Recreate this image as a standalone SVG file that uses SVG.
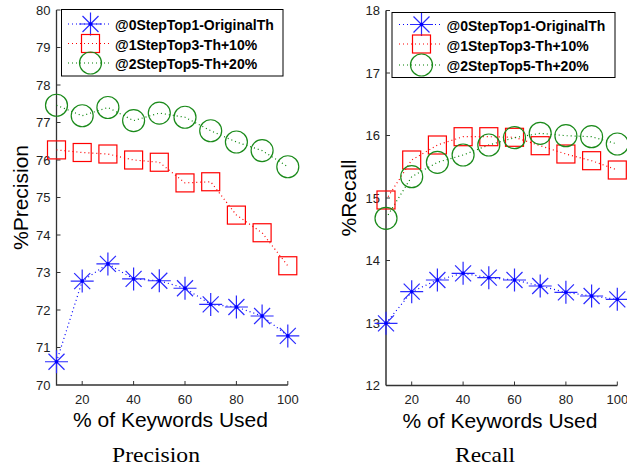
<svg xmlns="http://www.w3.org/2000/svg" xmlns:xlink="http://www.w3.org/1999/xlink" width="627" height="470" viewBox="0 0 627 470">
<style>
.ax{stroke:#333;stroke-width:1.3;fill:none}
.axr{stroke:#666;stroke-width:2;fill:none}
.tk{stroke:#333;stroke-width:1;fill:none}
.tl{font-family:"Liberation Sans",Arial,sans-serif;font-size:13px;fill:#222}
.lab{font-family:"Liberation Sans",Arial,sans-serif;font-size:21px;fill:#000}
.cap{font-family:"Liberation Serif","Times New Roman",serif;font-size:21px;fill:#000}
.lg{font-family:"Liberation Sans",Arial,sans-serif;font-size:14px;font-weight:bold;fill:#000}
.lbox{fill:#fff;stroke:#000;stroke-width:1}
.bl{stroke:#0000ff;stroke-width:1.2;stroke-dasharray:1 3;fill:none}
.rl{stroke:#ff0000;stroke-width:1.2;stroke-dasharray:1 3;fill:none}
.gl{stroke:#008000;stroke-width:1.2;stroke-dasharray:1 3;fill:none}
.bm{stroke:#2a2aff;stroke-width:1.2;fill:#0000ff}
.rm{stroke:#ff0000;stroke-width:1.2;fill:none}
.gm{stroke:#1a8a1a;stroke-width:1.2;fill:none}
</style>
<defs>
<g id="star"><path d="M-11.5,0H11.5M0,-11.5V11.5M-8,-8L8,8M-8,8L8,-8"/><circle r="1.8" stroke="none"/></g>
<rect id="sq" x="-9" y="-9" width="18" height="18"/>
<circle id="ci" r="11"/>
</defs>

<!-- LEFT PLOT: Precision -->
<g id="precision-axes">
<path class="ax" d="M56.5,10V385H287.8"/>
<path class="tk" d="M56.5,10h4M56.5,47.5h4M56.5,85h4M56.5,122.5h4M56.5,160h4M56.5,197.5h4M56.5,235h4M56.5,272.5h4M56.5,310h4M56.5,347.5h4M82.2,385v-4M133.6,385v-4M185,385v-4M236.4,385v-4M287.8,385v-4"/>
<g class="tl" text-anchor="end">
<text x="50.5" y="14.7">80</text><text x="50.5" y="52.2">79</text><text x="50.5" y="89.7">78</text><text x="50.5" y="127.2">77</text><text x="50.5" y="164.7">76</text><text x="50.5" y="202.2">75</text><text x="50.5" y="239.7">74</text><text x="50.5" y="277.2">73</text><text x="50.5" y="314.7">72</text><text x="50.5" y="352.2">71</text><text x="50.5" y="389.7">70</text>
</g>
<g class="tl" text-anchor="middle">
<text x="82.2" y="403.5">20</text><text x="133.6" y="403.5">40</text><text x="185" y="403.5">60</text><text x="236.4" y="403.5">80</text><text x="287.8" y="403.5">100</text>
</g>
<text class="lab" x="170.5" y="426.5" text-anchor="middle">% of Keywords Used</text>
<text class="lab" transform="translate(27.5,197.5) rotate(-90)" text-anchor="middle">%Precision</text>
<text class="cap" x="156" y="461.5" text-anchor="middle" textLength="88" lengthAdjust="spacingAndGlyphs">Precision</text>
</g>

<g id="connectors">
<polyline class="bl" points="56.5,361.75 82.2,281.1 107.9,263.9 133.6,278.9 159.3,280.75 185,288.25 210.7,304.4 236.4,307 262.1,316 287.8,335.9"/>
<polyline class="rl" points="56.5,149.9 82.2,152.5 107.9,154 133.6,160 159.3,162.25 185,182.9 210.7,181.75 236.4,215.1 262.1,232.75 287.8,265.75"/>
<polyline class="gl" points="56.5,105.25 82.2,115.75 107.9,107.5 133.6,120.6 159.3,113.1 185,117.25 210.7,130.75 236.4,142 262.1,150.6 287.8,166.75"/>
<polyline class="bl" points="386,323.3 411.7,291.7 437.4,280 463.1,273.3 488.8,277.7 514.5,280 540.2,286 565.9,292.3 591.6,296 617.3,299.3"/>
<polyline class="rl" points="386,200 411.7,160 437.4,145 463.1,136.7 488.8,136.7 514.5,137.3 540.2,145.7 565.9,154 591.6,160.7 617.3,170"/>
<polyline class="gl" points="386,218.3 411.7,176.7 437.4,162.3 463.1,155 488.8,145 514.5,137.7 540.2,133.3 565.9,135.7 591.6,136.7 617.3,144"/>
</g>

<g id="precision-0step" class="bm">
<use href="#star" x="56.5" y="361.75"/><use href="#star" x="82.2" y="281.1"/><use href="#star" x="107.9" y="263.9"/><use href="#star" x="133.6" y="278.9"/><use href="#star" x="159.3" y="280.75"/><use href="#star" x="185" y="288.25"/><use href="#star" x="210.7" y="304.4"/><use href="#star" x="236.4" y="307"/><use href="#star" x="262.1" y="316"/><use href="#star" x="287.8" y="335.9"/>
</g>
<g id="precision-1step" class="rm">
<use href="#sq" x="56.5" y="149.9"/><use href="#sq" x="82.2" y="152.5"/><use href="#sq" x="107.9" y="154"/><use href="#sq" x="133.6" y="160"/><use href="#sq" x="159.3" y="162.25"/><use href="#sq" x="185" y="182.9"/><use href="#sq" x="210.7" y="181.75"/><use href="#sq" x="236.4" y="215.1"/><use href="#sq" x="262.1" y="232.75"/><use href="#sq" x="287.8" y="265.75"/>
</g>
<g id="precision-2step" class="gm">
<use href="#ci" x="56.5" y="105.25"/><use href="#ci" x="82.2" y="115.75"/><use href="#ci" x="107.9" y="107.5"/><use href="#ci" x="133.6" y="120.6"/><use href="#ci" x="159.3" y="113.1"/><use href="#ci" x="185" y="117.25"/><use href="#ci" x="210.7" y="130.75"/><use href="#ci" x="236.4" y="142"/><use href="#ci" x="262.1" y="150.6"/><use href="#ci" x="287.8" y="166.75"/>
</g>

<g id="precision-legend">
<rect class="lbox" x="61.5" y="9.5" width="221.5" height="66.5"/>
<line class="bl" x1="68" y1="24" x2="112" y2="24"/>
<line class="rl" x1="68" y1="43.5" x2="112" y2="43.5"/>
<line class="gl" x1="68" y1="63" x2="112" y2="63"/>
<use href="#star" class="bm" x="90.5" y="24"/>
<use href="#sq" class="rm" x="90.5" y="43.5"/>
<use href="#ci" class="gm" x="90.5" y="63"/>
<text class="lg" x="115" y="30">@0StepTop1-OriginalTh</text>
<text class="lg" x="115" y="49.5">@1StepTop3-Th+10%</text>
<text class="lg" x="115" y="69">@2StepTop5-Th+20%</text>
</g>

<!-- RIGHT PLOT: Recall -->
<g id="recall-axes">
<path class="axr" d="M386,10.5V385.5"/>
<path class="ax" d="M386,385.5H617.3"/>
<path class="tk" d="M386,10.5h4M386,73h4M386,135.5h4M386,198h4M386,260.5h4M386,323h4M411.7,385.5v-4M463.1,385.5v-4M514.5,385.5v-4M565.9,385.5v-4M617.3,385.5v-4"/>
<g class="tl" text-anchor="end">
<text x="380" y="15.2">18</text><text x="380" y="77.7">17</text><text x="380" y="140.2">16</text><text x="380" y="202.7">15</text><text x="380" y="265.2">14</text><text x="380" y="327.7">13</text><text x="380" y="390.2">12</text>
</g>
<g class="tl" text-anchor="middle">
<text x="411.7" y="403.5">20</text><text x="463.1" y="403.5">40</text><text x="514.5" y="403.5">60</text><text x="565.9" y="403.5">80</text><text x="617.3" y="403.5">100</text>
</g>
<text class="lab" x="500" y="427.5" text-anchor="middle">% of Keywords Used</text>
<text class="lab" transform="translate(356,198) rotate(-90)" text-anchor="middle">%Recall</text>
<text class="cap" x="485" y="461.5" text-anchor="middle" textLength="60" lengthAdjust="spacingAndGlyphs">Recall</text>
</g>

<g id="recall-0step" class="bm">
<use href="#star" x="386" y="323.3"/><use href="#star" x="411.7" y="291.7"/><use href="#star" x="437.4" y="280"/><use href="#star" x="463.1" y="273.3"/><use href="#star" x="488.8" y="277.7"/><use href="#star" x="514.5" y="280"/><use href="#star" x="540.2" y="286"/><use href="#star" x="565.9" y="292.3"/><use href="#star" x="591.6" y="296"/><use href="#star" x="617.3" y="299.3"/>
</g>
<g id="recall-1step" class="rm">
<use href="#sq" x="386" y="200"/><use href="#sq" x="411.7" y="160"/><use href="#sq" x="437.4" y="145"/><use href="#sq" x="463.1" y="136.7"/><use href="#sq" x="488.8" y="136.7"/><use href="#sq" x="514.5" y="137.3"/><use href="#sq" x="540.2" y="145.7"/><use href="#sq" x="565.9" y="154"/><use href="#sq" x="591.6" y="160.7"/><use href="#sq" x="617.3" y="170"/>
</g>
<g id="recall-2step" class="gm">
<use href="#ci" x="386" y="218.3"/><use href="#ci" x="411.7" y="176.7"/><use href="#ci" x="437.4" y="162.3"/><use href="#ci" x="463.1" y="155"/><use href="#ci" x="488.8" y="145"/><use href="#ci" x="514.5" y="137.7"/><use href="#ci" x="540.2" y="133.3"/><use href="#ci" x="565.9" y="135.7"/><use href="#ci" x="591.6" y="136.7"/><use href="#ci" x="617.3" y="144"/>
</g>

<g id="recall-legend">
<rect class="lbox" x="392" y="12.5" width="223" height="65"/>
<line class="bl" x1="399" y1="24.5" x2="443" y2="24.5"/>
<line class="rl" x1="399" y1="44" x2="443" y2="44"/>
<line class="gl" x1="399" y1="65" x2="443" y2="65"/>
<use href="#star" class="bm" x="421.5" y="24.5"/>
<use href="#sq" class="rm" x="421.5" y="44"/>
<use href="#ci" class="gm" x="421.5" y="65"/>
<text class="lg" x="446.5" y="30.5">@0StepTop1-OriginalTh</text>
<text class="lg" x="446.5" y="50.5">@1StepTop3-Th+10%</text>
<text class="lg" x="446.5" y="70.5">@2StepTop5-Th+20%</text>
</g>
</svg>
